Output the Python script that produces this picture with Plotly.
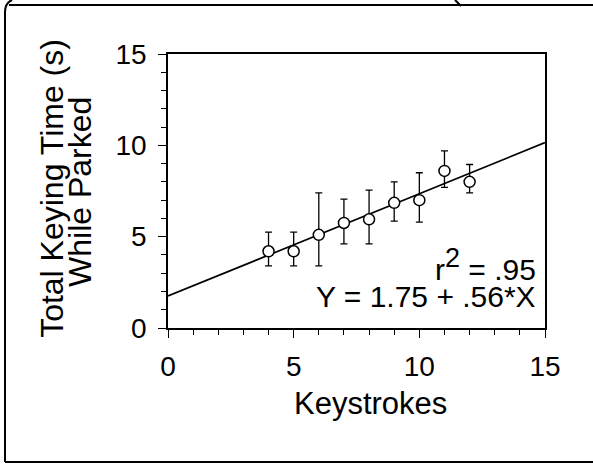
import plotly.graph_objects as go

# Mean total keying time while parked, by number of keystrokes
keystrokes = [4, 5, 6, 7, 8, 9, 10, 11, 12]
mean_time = [4.2, 4.2, 5.1, 5.75, 5.95, 6.85, 7.0, 8.6, 8.0]
upper_time = [5.25, 5.25, 7.4, 7.05, 7.55, 8.0, 8.5, 9.7, 8.95]
lower_time = [3.4, 3.4, 3.4, 4.6, 4.6, 5.85, 5.8, 7.7, 7.4]

# Regression fit
intercept = 1.75
slope = 0.56
r_squared = ".95"
fit_x = [0, 15]
fit_y = [intercept + slope * x for x in fit_x]

tick_vals = [0, 5, 10, 15]

err_plus = [u - m for u, m in zip(upper_time, mean_time)]
err_minus = [m - l for m, l in zip(mean_time, lower_time)]

FONT = "Liberation Sans, Arial, Helvetica, sans-serif"

fig = go.Figure()

fig.add_trace(go.Scatter(
    x=fit_x, y=fit_y, mode="lines",
    line=dict(color="black", width=1.7),
    hoverinfo="skip", showlegend=False,
))

fig.add_trace(go.Scatter(
    x=keystrokes, y=mean_time, mode="markers",
    marker=dict(symbol="circle", size=11, color="white",
                line=dict(color="black", width=1.5)),
    error_y=dict(type="data", symmetric=False, array=err_plus,
                 arrayminus=err_minus, color="black", thickness=1.3, width=3.5),
    showlegend=False,
))

axis_common = dict(
    showgrid=False, zeroline=False,
    showline=True, linecolor="black", linewidth=1.7, mirror=True,
    ticks="outside", ticklen=8, tickwidth=1.4, tickcolor="black",
    tickvals=tick_vals, ticktext=[str(v) for v in tick_vals],
    tickfont=dict(family=FONT, size=28, color="black"),
    minor=dict(dtick=1, ticks="outside", ticklen=5, tickwidth=1.2, tickcolor="black"),
)

fig.update_xaxes(range=[0, 15], ticklabelstandoff=5, **axis_common)
fig.update_yaxes(range=[0, 15], ticklabelstandoff=6, **axis_common)

sup2 = "<sup><span style='font-size:27px'>2</span></sup>"

annotations = [
    dict(text="Total Keying Time (s)", xref="paper", yref="paper",
         x=-0.308, y=0.511, textangle=-90, showarrow=False,
         xanchor="center", yanchor="middle",
         font=dict(family=FONT, size=32, color="black")),
    dict(text="While Parked", xref="paper", yref="paper",
         x=-0.233, y=0.497, textangle=-90, showarrow=False,
         xanchor="center", yanchor="middle",
         font=dict(family=FONT, size=32, color="black")),
    dict(text="Keystrokes", xref="x", yref="paper",
         x=8.04, y=-0.277, showarrow=False, xanchor="center", yanchor="middle",
         font=dict(family=FONT, size=31, color="black")),
    dict(text="r" + sup2 + " = " + r_squared, xref="x", yref="y",
         x=14.72, y=3.45, showarrow=False, xanchor="right", yanchor="middle",
         font=dict(family=FONT, size=30, color="black")),
    dict(text=f"Y = {intercept:.2f} + {slope:.2f}*X".replace("0.56", ".56"),
         xref="x", yref="y", x=14.72, y=1.72, showarrow=False,
         xanchor="right", yanchor="middle",
         font=dict(family=FONT, size=30, color="black")),
]

# Outer frame around the panel (paper units relative to the plot area)
W_PLOT, H_PLOT = 377.0, 274.0
X0, Y0 = 168.0, 328.0


def px(xp):
    return (xp - X0) / W_PLOT


def py(yp):
    return (Y0 - yp) / H_PLOT


frame = dict(color="black", width=2)
shapes = [
    dict(type="line", xref="paper", yref="paper",
         x0=px(5), y0=py(462), x1=px(5), y1=py(12), line=frame),
    dict(type="path", xref="paper", yref="paper",
         path=f"M {px(5)},{py(12)} Q {px(5)},{py(3)} {px(12)},{py(0)}", line=frame),
    dict(type="line", xref="paper", yref="paper",
         x0=px(9), y0=py(5), x1=px(593), y1=py(5), line=frame),
    dict(type="path", xref="paper", yref="paper",
         path=f"M {px(455)},{py(0)} Q {px(458)},{py(3)} {px(461)},{py(6)}", line=frame),
    dict(type="line", xref="paper", yref="paper",
         x0=px(5), y0=py(462), x1=px(593), y1=py(462), line=frame),
]

fig.update_layout(
    width=593, height=465,
    margin=dict(l=168, r=48, t=54, b=137, autoexpand=False),
    paper_bgcolor="white", plot_bgcolor="white",
    annotations=annotations, shapes=shapes,
    font=dict(family=FONT, color="black"),
)

fig.write_html("out.html")
